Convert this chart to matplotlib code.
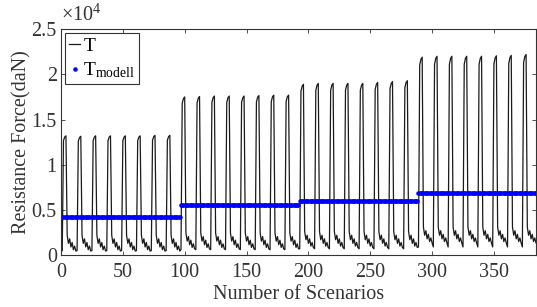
import numpy as np
import matplotlib
matplotlib.use("Agg")
import matplotlib.pyplot as plt
from matplotlib.ticker import FuncFormatter

plt.rcParams['font.family'] = ['Liberation Serif', 'DejaVu Serif']
plt.rcParams['mathtext.fontset'] = 'custom'
plt.rcParams['mathtext.rm'] = 'Liberation Serif'
plt.rcParams['mathtext.it'] = 'Liberation Serif:italic'

# ---- data (units: daN) ----
cycle_len = 12
group_len = 96
# peak of each of the 32 spikes
peaks = [13200, 13150, 13200, 13200, 13200, 13200, 13250, 13250,
         17500, 17550, 17600, 17600, 17600, 17650, 17700, 17700,
         18900, 19000, 19000, 19000, 19000, 19100, 19200, 19300,
         21900, 22000, 22000, 22000, 22000, 22050, 22100, 22200]
# shape of one 12-scenario cycle: leading value, spike points, then the low zig-zag
lead_low = [500, 600, 700, 900]              # per group, value before spike
spike_ratio = [0.96, 0.99, 1.0]
low_zigzag = [2200, 1300, 1800, 900, 1400, 600, 1000, 450]
low_offset = [0, 250, 400, 900]              # lows rise a bit in later groups
# model values per group
model_vals = [4200, 5550, 5950, 6900]
yticks = [0, 5000, 10000, 15000, 20000, 25000]
xticks = [0, 50, 100, 150, 200, 250, 300, 350]

# ---- build series ----
T = []
for k, pk in enumerate(peaks):
    g = k // (group_len // cycle_len)
    T.append(lead_low[g])
    T.extend([pk * r for r in spike_ratio])
    T.extend([v + low_offset[g] for v in low_zigzag])
T = np.array(T, dtype=float)
x = np.arange(1, len(T) + 1)
Tm = np.repeat(model_vals, group_len).astype(float)

fs = 14.5
tc = '#333333'
fig = plt.figure(figsize=(5.37, 3.07), dpi=100)
ax = fig.add_axes([0.1136, 0.169, 0.8845, 0.736])

ax.plot(x, T, color='#1a1a1a', lw=0.9, label='T')
ax.plot(x, Tm, linestyle='none', marker='.', color='#0000ff', markersize=4.5,
        label=r'$\mathrm{T}_{\mathrm{modell}}$')

ax.set_xlim(0, 384)
ax.set_ylim(0, 25000)
ax.set_xticks(xticks)
ax.set_yticks(yticks)
ax.yaxis.set_major_formatter(FuncFormatter(lambda v, p: f'{v/1e4:g}'))
ax.text(0.0, 1.015, r'$\times10^{4}$', transform=ax.transAxes, fontsize=fs,
        color=tc, ha='left', va='bottom')

ax.tick_params(direction='in', top=True, right=True, length=3, width=0.6,
               labelsize=fs, colors=tc, labelcolor=tc, pad=3)
ax.tick_params(axis='x', pad=6)
for s in ax.spines.values():
    s.set_linewidth(0.8)
    s.set_color(tc)

ax.set_xlabel('Number of Scenarios', fontsize=fs, color=tc, labelpad=2)
ax.set_ylabel('Resistance Force(daN)', fontsize=fs, color=tc, labelpad=0)

leg = ax.legend(loc='upper left', fontsize=14, handlelength=0.6, handletextpad=0.15,
                borderaxespad=0.2, borderpad=0.2, labelspacing=0.3,
                fancybox=False, framealpha=1, edgecolor=tc)
leg.get_frame().set_linewidth(0.8)

fig.savefig('out.png', dpi=100)
